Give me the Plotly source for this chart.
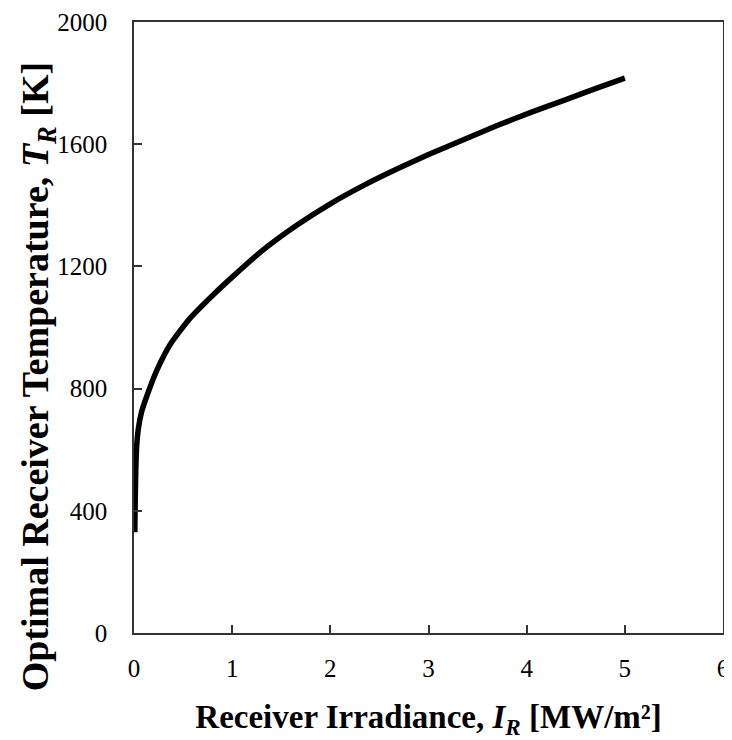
import plotly.graph_objects as go

irradiance = [0.008, 0.012, 0.018, 0.027, 0.045, 0.078, 0.13, 0.23, 0.37, 0.57,
              0.80, 1.0, 1.3, 1.65, 2.0, 2.35, 2.7, 3.0, 3.35, 3.7,
              4.05, 4.4, 4.7, 5.0]
temperature = [330, 430, 530, 610, 670, 725, 775, 858, 945, 1030,
               1105, 1165, 1250, 1333, 1405, 1467, 1522, 1566, 1614, 1661,
               1705, 1746, 1782, 1816]

x_ticks = [0, 1, 2, 3, 4, 5, 6]
y_ticks = [0, 400, 800, 1200, 1600, 2000]

fig = go.Figure()
fig.add_trace(go.Scatter(x=irradiance, y=temperature, mode="lines",
                         line=dict(color="black", width=5.5, shape="spline", smoothing=0.6),
                         showlegend=False))

font = "Liberation Serif, Times New Roman, serif"
# page body has an 8px default margin, so the figure is slightly smaller and shifted
fig.update_layout(
    width=724, height=732,
    margin=dict(l=126, r=9, t=14, b=107),
    paper_bgcolor="white", plot_bgcolor="white",
    font=dict(family=font, color="black"),
)
fig.update_xaxes(
    range=[0, 6], tickvals=x_ticks, ticks="inside", ticklen=8, tickwidth=1.5,
    tickcolor="#333", showline=True, linecolor="#333", linewidth=1.5, mirror=True,
    showgrid=False, zeroline=False, tickfont=dict(size=25, family=font),
    ticklabelstandoff=12, automargin=False, ticklabeloverflow="allow",
    title=dict(text="<b>Receiver Irradiance, <i>I<sub>R</sub></i> [MW/m²]</b>",
               font=dict(size=33, family=font), standoff=24),
)
fig.update_yaxes(
    range=[0, 2000], tickvals=y_ticks, ticks="inside", ticklen=8, tickwidth=1.5,
    tickcolor="#333", showline=True, linecolor="#333", linewidth=1.5, mirror=True,
    showgrid=False, zeroline=False, tickfont=dict(size=25, family=font),
    ticklabelstandoff=20, automargin=False,
)
fig.add_annotation(
    text="<b>Optimal Receiver Temperature, <i>T<sub>R</sub></i> [K]</b>",
    xref="paper", yref="paper", x=-0.163, y=0.42, xanchor="center", yanchor="middle",
    textangle=-90, showarrow=False, font=dict(size=38, family=font, color="black"),
)

fig.write_html("out.html")
